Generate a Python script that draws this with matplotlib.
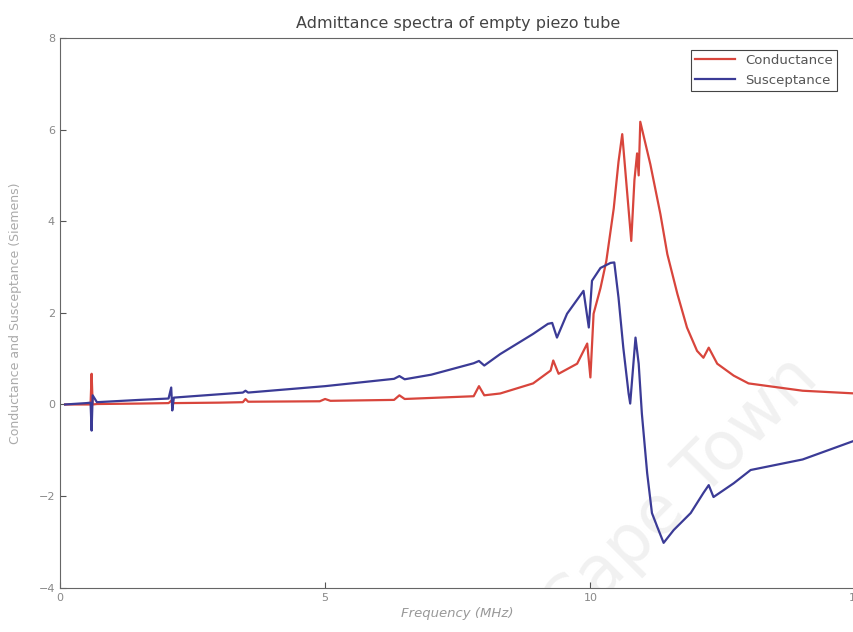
import matplotlib.pyplot as plt

# frequency in MHz, admittance values
cond_f = [0.1, 0.5, 0.58, 0.6, 0.62, 0.7, 1.5, 2.05, 2.1, 2.15, 3.0, 3.45, 3.5, 3.55,
          4.9, 5.0, 5.1, 6.3, 6.4, 6.5, 7.8, 7.9, 8.0, 8.3, 8.92, 9.25, 9.3, 9.4, 9.75,
          9.94, 10.0, 10.06, 10.19, 10.3, 10.44, 10.53, 10.6, 10.68, 10.77, 10.83, 10.88,
          10.91, 10.94, 11.13, 11.32, 11.45, 11.64, 11.82, 12.01, 12.13, 12.23, 12.39,
          12.7, 12.98, 14.0, 15.0]
cond_v = [0, 0.0, 0.0, 0.67, 0.0, 0.01, 0.02, 0.03, 0.08, 0.03, 0.04, 0.05, 0.12, 0.06,
          0.07, 0.12, 0.08, 0.1, 0.2, 0.12, 0.18, 0.4, 0.2, 0.24, 0.46, 0.74, 0.96, 0.67,
          0.89, 1.33, 0.59, 1.98, 2.54, 3.13, 4.28, 5.3, 5.9, 4.8, 3.57, 4.9, 5.48, 5.0,
          6.17, 5.24, 4.15, 3.28, 2.41, 1.68, 1.17, 1.02, 1.24, 0.89, 0.63, 0.46, 0.3, 0.24]

susc_f = [0.1, 0.5, 0.58, 0.6, 0.62, 0.7, 1.5, 2.05, 2.1, 2.12, 2.15, 2.5, 3.45, 3.5,
          3.55, 5.0, 6.3, 6.4, 6.5, 7.0, 7.8, 7.9, 8.0, 8.3, 8.92, 9.2, 9.28, 9.37, 9.56,
          9.87, 9.97, 10.03, 10.19, 10.38, 10.45, 10.53, 10.62, 10.72, 10.75, 10.85, 10.91,
          10.97, 11.07, 11.16, 11.26, 11.38, 11.57, 11.89, 12.13, 12.23, 12.32, 12.7,
          13.02, 14.0, 15.0]
susc_v = [0, 0.03, 0.04, -0.57, 0.2, 0.05, 0.1, 0.13, 0.37, -0.13, 0.15, 0.18, 0.26, 0.3,
          0.26, 0.4, 0.56, 0.62, 0.55, 0.65, 0.9, 0.95, 0.85, 1.1, 1.54, 1.76, 1.78, 1.46,
          1.98, 2.48, 1.68, 2.7, 2.98, 3.09, 3.1, 2.33, 1.24, 0.24, 0.02, 1.46, 0.89, -0.2,
          -1.5, -2.37, -2.67, -3.02, -2.74, -2.37, -1.93, -1.76, -2.02, -1.72, -1.43, -1.2,
          -0.78]

fig = plt.figure(figsize=(8.54, 6.32), dpi=100)
ax = fig.add_axes([0.070, 0.070, 0.932, 0.870])

# faint watermark behind the curves
ax.text(0.78, 0.17, 'Cape Town', transform=ax.transAxes, rotation=45, fontsize=48,
        color='#f1f1f1', ha='center', va='center', zorder=0, clip_on=True)

ax.plot(cond_f, cond_v, color='#d8453c', linewidth=1.6, label='Conductance')
ax.plot(susc_f, susc_v, color='#3b3b96', linewidth=1.6, label='Susceptance')

ax.set_xlim(0, 15)
ax.set_ylim(-4, 8)
ax.set_xticks([0, 5, 10, 15])
ax.set_yticks([-4, -2, 0, 2, 4, 6, 8])
ax.tick_params(direction='in', length=4, labelsize=8, colors='#555555', labelcolor='#888888')
for s in ax.spines.values():
    s.set_color('#666666')
    s.set_linewidth(0.8)

ax.set_title('Admittance spectra of empty piezo tube', fontsize=11.5, color='#444444', pad=7)
ax.set_xlabel('Frequency (MHz)', fontsize=9.5, color='#999999', style='italic')
ax.xaxis.set_label_coords(0.5, -0.035)
ax.set_ylabel('Conductance and Susceptance (Siemens)', fontsize=9, color='#aaaaaa')
ax.yaxis.set_label_coords(-0.048, 0.5)

leg = ax.legend(loc='upper right', fontsize=9.5, fancybox=False, framealpha=1,
                edgecolor='#444444', borderpad=0.3, handlelength=3, bbox_to_anchor=(0.985, 0.99))
leg.get_frame().set_linewidth(0.8)
for t in leg.get_texts():
    t.set_color('#555555')

plt.savefig('out.png', dpi=100)
